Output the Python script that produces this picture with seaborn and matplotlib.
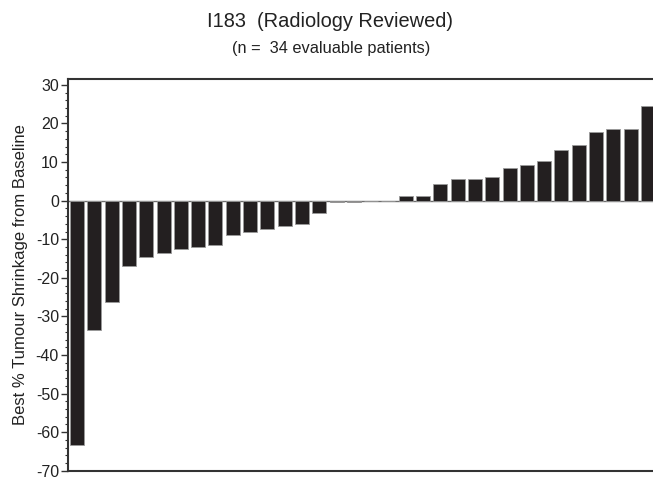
import matplotlib
matplotlib.use("Agg")
import matplotlib.pyplot as plt
import seaborn as sns
import pandas as pd
from matplotlib.ticker import MultipleLocator

patients = [f"P{i+1:02d}" for i in range(34)]
shrinkage = [-63.4, -33.5, -26.2, -16.9, -14.5, -13.5, -12.5, -12.1, -11.6,
             -9.0, -8.1, -7.4, -6.6, -6.0, -3.2, -0.3, -0.3, 0.0, 0.0,
             1.1, 1.1, 4.2, 5.5, 5.6, 6.2, 8.4, 9.2, 10.2, 13.0, 14.3,
             17.8, 18.5, 18.5, 24.4]
yticks = [30, 20, 10, 0, -10, -20, -30, -40, -50, -60, -70]

df = pd.DataFrame({"patient": patients, "shrinkage": shrinkage})

sns.set_style("white")
plt.rcParams['font.family'] = ['Liberation Sans', 'DejaVu Sans']

fig = plt.figure(figsize=(6.53, 4.79), dpi=100)
ax = fig.add_axes([68/653, 8.3/479, 585/653, 391.4/479])

sns.barplot(data=df, x="patient", y="shrinkage", order=patients,
            color="#231f20", saturation=1, width=0.81,
            edgecolor="#9a9a9a", linewidth=0.6, ax=ax)

ax.axhline(0, color="#6e6e6e", lw=1.0, zorder=0.5)
ax.set_xlim(-0.52, 33.29)
ax.set_ylim(-70, 31.45)
ax.set_yticks(yticks)
ax.set_yticklabels([str(t) for t in yticks], fontsize=11.5, color="#222222")
ax.yaxis.set_minor_locator(MultipleLocator(2))
ax.tick_params(axis="y", which="major", direction="out", length=5, width=1, color="#333333", left=True, pad=1.5)
ax.tick_params(axis="y", which="minor", direction="out", length=2.5, width=0.8, color="#333333", left=True)
ax.set_xticks([])
ax.set_xlabel("")
ax.set_ylabel("Best % Tumour Shrinkage from Baseline", fontsize=12, color="#222222")
ax.yaxis.set_label_coords(-0.068, 0.5)

for s in ["left", "top", "bottom"]:
    ax.spines[s].set_visible(True)
    ax.spines[s].set_color("#333333")
    ax.spines[s].set_linewidth(1.5)
ax.spines["right"].set_visible(False)

fig.text(0.506, 1 - 27/479, "I183  (Radiology Reviewed)", ha="center", va="baseline",
         fontsize=14.4, color="#222222")
fig.text(0.507, 1 - 53.5/479, "(n =  34 evaluable patients)", ha="center", va="baseline",
         fontsize=11.8, color="#222222")

fig.savefig("out.png", dpi=100)
